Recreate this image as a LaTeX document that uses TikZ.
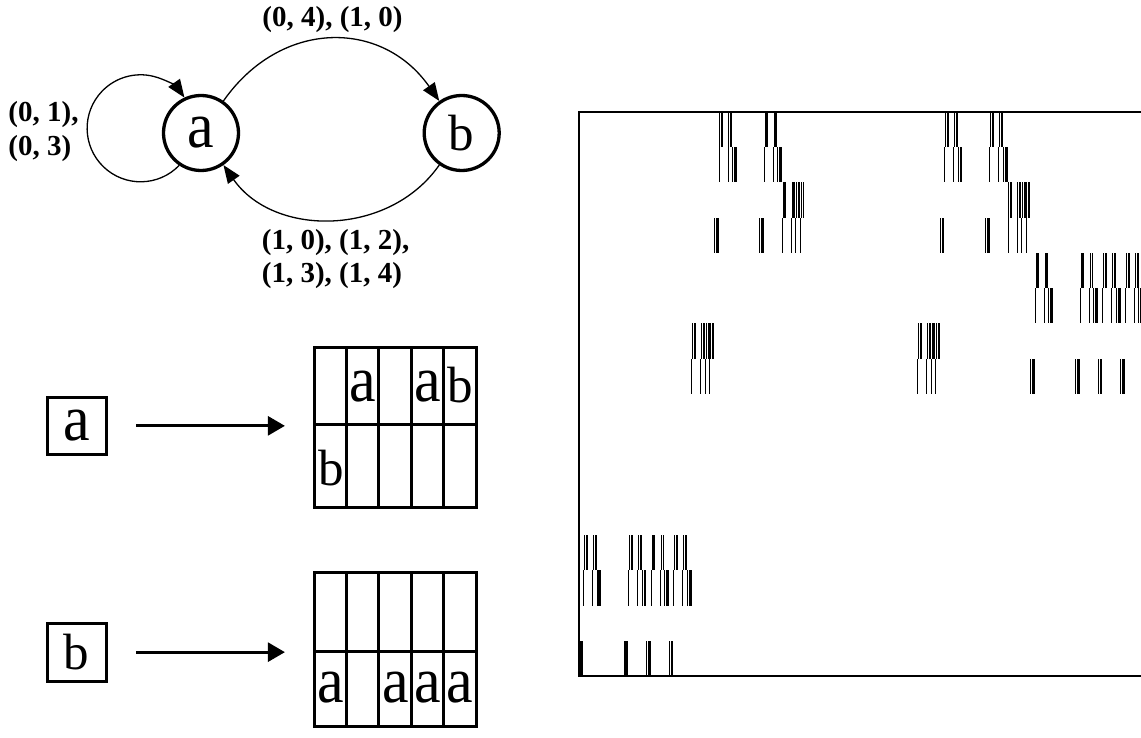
\documentclass[tikz,border=0pt]{standalone}
\usepackage{fontspec}
\usepackage{graphicx}
\setmainfont{Liberation Serif}
\usetikzlibrary{arrows.meta}

% recursive substitution tiles (x, y = top-left, w, h, level)
\newcommand\tileA[5]{%
  \ifnum#5=0
    \fill (#1,#2) rectangle ++(#3,#4);%
  \else
    \begingroup
      \pgfmathsetmacro\pwA{#3/5}%
      \pgfmathsetmacro\phA{#4/2}%
      \pgfmathtruncatemacro\plA{#5-1}%
      \pgfmathsetmacro\pxA{#1+\pwA}%
      \pgfmathsetmacro\pxB{#1+3*\pwA}%
      \pgfmathsetmacro\pxC{#1+4*\pwA}%
      \pgfmathsetmacro\pyA{#2+\phA}%
      \edef\tnext{%
        \noexpand\tileA{\pxA}{#2}{\pwA}{\phA}{\plA}%
        \noexpand\tileA{\pxB}{#2}{\pwA}{\phA}{\plA}%
        \noexpand\tileB{\pxC}{#2}{\pwA}{\phA}{\plA}%
        \noexpand\tileB{#1}{\pyA}{\pwA}{\phA}{\plA}}%
    \expandafter\endgroup\tnext
  \fi}
\newcommand\tileB[5]{%
  \ifnum#5=0
    \fill (#1,#2) rectangle ++(#3,#4);%
  \else
    \begingroup
      \pgfmathsetmacro\pwA{#3/5}%
      \pgfmathsetmacro\phA{#4/2}%
      \pgfmathtruncatemacro\plA{#5-1}%
      \pgfmathsetmacro\pxA{#1+2*\pwA}%
      \pgfmathsetmacro\pxB{#1+3*\pwA}%
      \pgfmathsetmacro\pxC{#1+4*\pwA}%
      \pgfmathsetmacro\pyA{#2+\phA}%
      \edef\tnext{%
        \noexpand\tileA{#1}{\pyA}{\pwA}{\phA}{\plA}%
        \noexpand\tileA{\pxA}{\pyA}{\pwA}{\phA}{\plA}%
        \noexpand\tileA{\pxB}{\pyA}{\pwA}{\phA}{\plA}%
        \noexpand\tileA{\pxC}{\pyA}{\pwA}{\phA}{\plA}}%
    \expandafter\endgroup\tnext
  \fi}

\newcommand\la{{\fontsize{65}{70}\selectfont\scalebox{0.92}[1]{a}}}
\newcommand\lb{{\fontsize{51}{60}\selectfont b}}

\tikzset{
  state/.style={circle, draw, line width=3.3pt, minimum size=75pt, inner sep=0pt},
  edge/.style={line width=1.3pt, -{Triangle[length=18pt,width=14pt]}},
  lab/.style={font=\bfseries\fontsize{29}{34}\selectfont, inner sep=0pt},
  letterbox/.style={draw, line width=3pt, minimum width=59pt, inner sep=0pt},
  gridframe/.style={draw, line width=3pt, minimum width=161.3pt, inner sep=0pt},
  gridline/.style={line width=3pt},
  maparrow/.style={line width=2.8pt, -{Triangle[length=17pt,width=19pt]}},
  cell/.style={inner sep=0pt},
}

\begin{document}
\begin{tikzpicture}[x=1pt, y=-1pt]
\useasboundingbox (0,0) rectangle (1141,738);

% automaton
\node[state] (a) at (201,133) {\la};
\node[state] (b) at (461.7,133) {\lb};
\draw[edge] (a.55) .. controls +(55:100pt) and +(125:100pt) .. (b.125);
\draw[edge] (b.-125) .. controls +(-125:88pt) and +(-55:88pt) .. (a.-55);
\draw[edge] (a.236) arc[start angle=-44, end angle=-325, radius=53.5pt];
\node[lab, anchor=base] (l1) at (332.5,27) {(0, 4), (1, 0)};
\node[lab, anchor=base west] (l2) at (8.3,122) {(0, 1),};
\node[lab, anchor=base west] (l3) at (8.3,156) {(0, 3)};
\node[lab, anchor=base west] (l4) at (261.7,250) {(1, 0), (1, 2),};
\node[lab, anchor=base west] (l5) at (261.7,283) {(1, 3), (1, 4)};

% substitution rule for a
\node[letterbox, minimum height=57.7pt] (ba) at (76.5,425.85) {\la};
\node[gridframe, minimum height=160.7pt] (gA) at (395.35,427.35) {};
\foreach \x in {346.6,378.9,411.2,443.5} \draw[gridline] (\x,347) -- (\x,507.7);
\draw[gridline] (314.7,424.3) -- (476,424.3);
\node[cell] (ga1) at (363.15,386.7) {\la};
\node[cell] (ga2) at (427.75,386.7) {\la};
\node[cell] (ga3) at (460.05,385.5) {\lb};
\node[cell] (ga4) at (330.85,468.4) {\lb};
\draw[maparrow, shorten <=28.7pt, shorten >=28.3pt] (ba.east) -- (ba.east -| gA.west);

% substitution rule for b
\node[letterbox, minimum height=58.3pt] (bb) at (76.5,652.15) {\lb};
\node[gridframe, minimum height=153.7pt] (gB) at (395.35,649.15) {};
\foreach \x in {346.6,378.9,411.2,443.5} \draw[gridline] (\x,572.3) -- (\x,726);
\draw[gridline] (314.7,651.7) -- (476,651.7);
\node[cell] (gb1) at (330.85,688) {\la};
\node[cell] (gb2) at (395.45,688) {\la};
\node[cell] (gb3) at (427.75,688) {\la};
\node[cell] (gb4) at (460.05,688) {\la};
\draw[maparrow, shorten <=28.7pt, shorten >=28.3pt] (bb.east) -- (bb.east -| gB.west);

% fractal pattern
\begin{scope}
\clip (0,0) rectangle (1141,738);
\tileA{578.5}{111.7}{564.5}{564.5}{4}
\draw[line width=2pt] (578.5,111.7) rectangle (1143,676.2);
\end{scope}
\end{tikzpicture}
\end{document}
